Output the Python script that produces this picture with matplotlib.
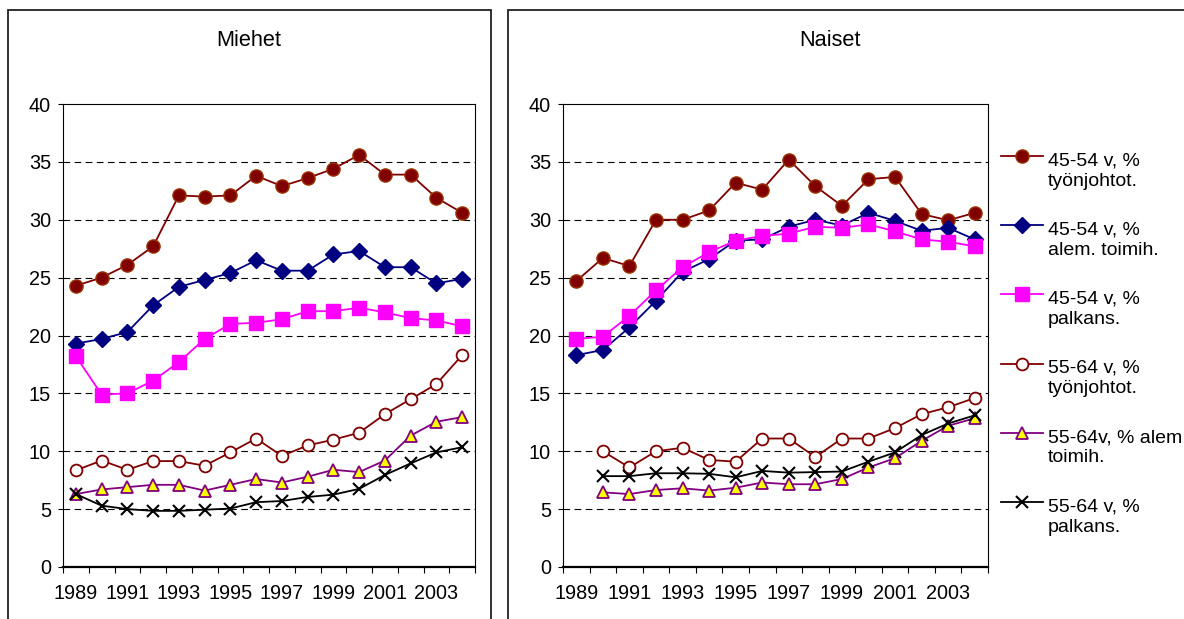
import numpy as np
import matplotlib
matplotlib.use("Agg")
import matplotlib.pyplot as plt
from matplotlib.patches import Rectangle
from matplotlib.lines import Line2D

plt.rcParams["font.family"] = ["Liberation Sans", "DejaVu Sans"]

years = list(range(1989, 2005))
year_labels = [str(y) for y in years[::2]]

labels = [
    "45-54 v, %\ntyönjohtot.",
    "45-54 v, %\nalem. toimih.",
    "45-54 v, %\npalkans.",
    "55-64 v, %\ntyönjohtot.",
    "55-64v, % alem\ntoimih.",
    "55-64 v, %\npalkans.",
]

nan = np.nan

# Miehet
m_tj_45 = [24.3, 25.0, 26.1, 27.7, 32.1, 32.0, 32.1, 33.8, 32.9, 33.6, 34.4, 35.6, 33.9, 33.9, 31.9, 30.6]
m_at_45 = [19.3, 19.7, 20.3, 22.6, 24.2, 24.8, 25.4, 26.5, 25.6, 25.6, 27.0, 27.3, 25.9, 25.9, 24.5, 24.9]
m_pk_45 = [18.2, 14.9, 15.0, 16.1, 17.7, 19.7, 21.0, 21.1, 21.4, 22.1, 22.1, 22.4, 22.0, 21.5, 21.3, 20.8]
m_tj_55 = [8.35, 9.2, 8.4, 9.15, 9.15, 8.75, 9.9, 11.1, 9.6, 10.5, 11.0, 11.6, 13.2, 14.5, 15.8, 18.3]
m_at_55 = [6.3, 6.7, 6.9, 7.1, 7.1, 6.6, 7.1, 7.6, 7.3, 7.8, 8.4, 8.2, 9.2, 11.35, 12.55, 12.95]
m_pk_55 = [6.3, 5.3, 5.0, 4.85, 4.85, 4.95, 5.05, 5.6, 5.7, 6.05, 6.25, 6.75, 7.95, 8.95, 9.9, 10.35]

# Naiset
n_tj_45 = [24.7, 26.7, 26.0, 30.0, 30.0, 30.8, 33.2, 32.6, 35.2, 32.9, 31.2, 33.5, 33.7, 30.5, 29.95, 30.6]
n_at_45 = [18.3, 18.75, 20.7, 23.0, 25.5, 26.6, 28.2, 28.3, 29.4, 30.0, 29.5, 30.6, 29.9, 29.05, 29.3, 28.3]
n_pk_45 = [19.7, 19.9, 21.7, 23.9, 25.9, 27.2, 28.2, 28.6, 28.8, 29.4, 29.3, 29.6, 29.0, 28.3, 28.1, 27.7]
n_tj_55 = [nan, 10.0, 8.6, 10.0, 10.3, 9.25, 9.1, 11.1, 11.1, 9.5, 11.1, 11.1, 12.0, 13.2, 13.8, 14.6]
n_at_55 = [nan, 6.45, 6.3, 6.65, 6.8, 6.6, 6.85, 7.3, 7.15, 7.15, 7.6, 8.6, 9.4, 10.9, 12.2, 12.85]
n_pk_55 = [nan, 7.85, 7.85, 8.1, 8.1, 8.05, 7.75, 8.3, 8.15, 8.2, 8.25, 9.1, 9.9, 11.4, 12.4, 13.1]

styles = [
    dict(color="#800000", marker="o", ms=9.5, mfc="#800000", mec="#993300"),
    dict(color="#000080", marker="D", ms=8, mfc="#000080", mec="#000080"),
    dict(color="#FF00FF", marker="s", ms=9.5, mfc="#FF00FF", mec="#FF00FF"),
    dict(color="#800000", marker="o", ms=8.5, mfc="white", mec="#800000", mew=1.3),
    dict(color="#800080", marker="^", ms=9, mfc="#FFFF00", mec="#800080", mew=1.3),
    dict(color="black", marker="x", ms=9, mfc="black", mec="black", mew=1.5),
]

W, H = 1184, 619


def px_rect(x0, y_top, x1, y_bottom):
    return [x0 / W, 1 - y_bottom / H, (x1 - x0) / W, (y_bottom - y_top) / H]


def draw_panel(ax, series):
    x = np.arange(len(years))
    for vals, st in zip(series, styles):
        ax.plot(x, vals, lw=1.3, **st, zorder=3)
    ax.set_xlim(-0.5, len(years) - 0.5)
    ax.set_ylim(0, 40)
    ax.set_yticks(range(0, 41, 5))
    ax.set_xticks(x[::2])
    ax.set_xticklabels(year_labels)
    ax.set_xticks(np.arange(-0.5, len(years)), minor=True)
    ax.tick_params(axis="x", which="major", length=0, pad=12, labelsize=14.3)
    ax.tick_params(axis="x", which="minor", length=4, width=0.8, direction="out")
    ax.tick_params(axis="y", length=3.6, width=0.8, pad=5, labelsize=14.3)
    for yv in range(5, 40, 5):
        ax.axhline(yv, color="black", lw=0.8, dashes=(6, 4), zorder=1)
    for side in ["top", "right", "left"]:
        ax.spines[side].set_linewidth(0.8)
    ax.spines["bottom"].set_linewidth(1.6)


fig = plt.figure(figsize=(W / 100, H / 100), dpi=100)

# panel frames
fig.patches.append(Rectangle((8 / W, -0.1), (491 - 8) / W, 1.1 - 10 / H,
                             transform=fig.transFigure, fill=False, lw=1.3, ec="#222222"))
fig.patches.append(Rectangle((508 / W, -0.1), 0.6, 1.1 - 10 / H,
                             transform=fig.transFigure, fill=False, lw=1.3, ec="#222222"))

ax1 = fig.add_axes(px_rect(63, 104, 475, 567))
draw_panel(ax1, [m_tj_45, m_at_45, m_pk_45, m_tj_55, m_at_55, m_pk_55])
ax2 = fig.add_axes(px_rect(563, 104, 988, 567))
draw_panel(ax2, [n_tj_45, n_at_45, n_pk_45, n_tj_55, n_at_55, n_pk_55])

fig.text(249 / W, 1 - 41 / H, "Miehet", ha="center", va="center", fontsize=15.7)
fig.text(830 / W, 1 - 41 / H, "Naiset", ha="center", va="center", fontsize=15.7)

# legend drawn in pixel coordinates
leg = fig.add_axes([0, 0, 1, 1])
leg.set_xlim(0, W)
leg.set_ylim(H, 0)
leg.axis("off")
for i, (lab, st) in enumerate(zip(labels, styles)):
    y = 156 + 69.2 * i
    leg.add_line(Line2D([1001, 1043], [y, y], lw=1.3, **{k: v for k, v in st.items() if k != "marker"}))
    leg.add_line(Line2D([1022], [y], lw=0, **st))
    leg.text(1048, y + 15, lab, ha="left", va="center", fontsize=14, linespacing=1.25)

fig.savefig("out.png", dpi=100)
